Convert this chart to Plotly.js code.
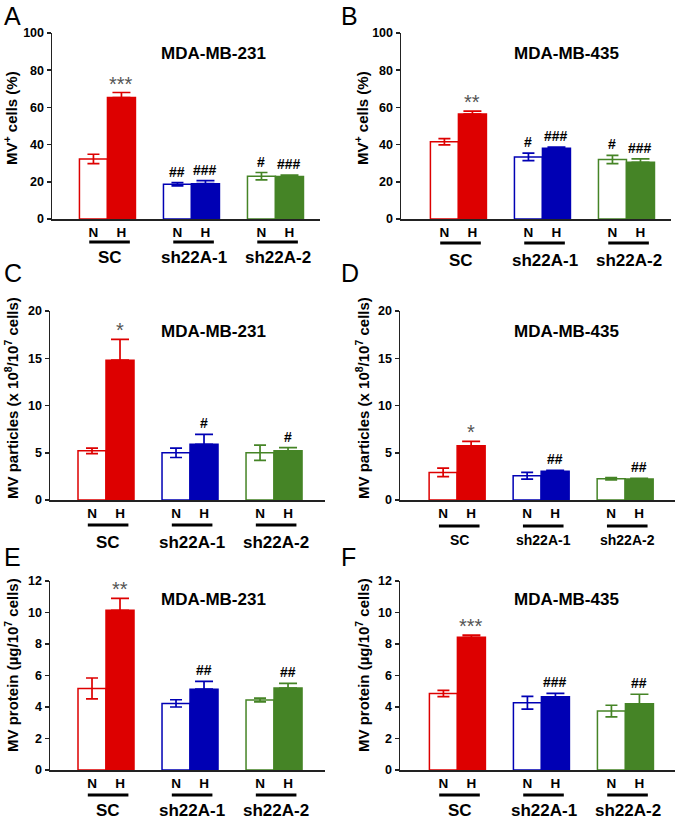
<!DOCTYPE html>
<html>
<head>
<meta charset="utf-8">
<script src="https://cdn.plot.ly/plotly-3.0.1.min.js"></script>
<style>html,body{margin:0;padding:0;background:#fff}#chart{width:678px;height:820px}</style>
</head>
<body>
<div id="chart"></div>
<script>
// ---- data ----
const groups = ['SC', 'sh22A-1', 'sh22A-2'];
const conds = ['N', 'H'];
const cellLines = ['MDA-MB-231', 'MDA-MB-435'];
const yTitles = ['MV<sup>+</sup> cells (%)', 'MV particles (x 10<sup>8</sup>/10<sup>7</sup> cells)', 'MV protein (µg/10<sup>7</sup> cells)'];
const panelLetters = ['A', 'B', 'C', 'D', 'E', 'F'];

// Panel A: MV+ cells, MDA-MB-231
const A_N = [32.3, 18.7, 23.0];
const A_N_err = [2.5, 0.9, 2.0];
const A_H = [65.3, 19.0, 22.8];
const A_H_err = [2.7, 1.6, 0.8];
const A_N_sig = ['', '##', '#'];
const A_H_sig = ['***', '###', '###'];
// Panel B: MV+ cells, MDA-MB-435
const B_N = [41.5, 33.4, 32.0];
const B_N_err = [1.7, 2.0, 2.2];
const B_H = [56.4, 38.1, 30.5];
const B_H_err = [1.6, 0.5, 1.8];
const B_N_sig = ['', '#', '#'];
const B_H_sig = ['**', '###', '###'];
// Panel C: MV particles, MDA-MB-231
const C_N = [5.2, 5.0, 5.0];
const C_N_err = [0.3, 0.5, 0.8];
const C_H = [14.8, 5.9, 5.2];
const C_H_err = [2.2, 1.05, 0.35];
const C_N_sig = ['', '', ''];
const C_H_sig = ['*', '#', '#'];
// Panel D: MV particles, MDA-MB-435
const D_N = [2.92, 2.57, 2.25];
const D_N_err = [0.45, 0.36, 0.13];
const D_H = [5.74, 3.03, 2.22];
const D_H_err = [0.46, 0.1, 0.07];
const D_N_sig = ['', '', ''];
const D_H_sig = ['*', '##', '##'];
// Panel E: MV protein, MDA-MB-231
const E_N = [5.18, 4.23, 4.44];
const E_N_err = [0.66, 0.23, 0.12];
const E_H = [10.14, 5.13, 5.2];
const E_H_err = [0.76, 0.5, 0.3];
const E_N_sig = ['', '', ''];
const E_H_sig = ['**', '##', '##'];
// Panel F: MV protein, MDA-MB-435
const F_N = [4.86, 4.27, 3.74];
const F_N_err = [0.2, 0.41, 0.37];
const F_H = [8.43, 4.65, 4.2];
const F_H_err = [0.13, 0.21, 0.61];
const F_N_sig = ['', '', ''];
const F_H_sig = ['***', '###', '##'];

// ---- styling / layout config ----
const groupColors = ['#dd0000', '#0000b4', '#458426'];
const W = 678, Hgt = 820;
const px = x => x / W;
const py = y => 1 - y / Hgt;
const FONT = 'Liberation Sans, Arial, Helvetica, sans-serif';

const panels = [
  {n: A_N, ne: A_N_err, h: A_H, he: A_H_err, ns: A_N_sig, hs: A_H_sig, line: 0, yt: 0,
   dom: [52, 320, 33, 219], xr: [-1.48, 8.09], yr: [0, 100], dt: 20,
   tpos: [213, 53], ytpos: [10, 118], lpos: [2, 15.5], lineY: 242, grpY: 257, grpSize: 17},
  {n: B_N, ne: B_N_err, h: B_H, he: B_H_err, ns: B_N_sig, hs: B_H_sig, line: 1, yt: 0,
   dom: [401, 671, 33, 219], xr: [-1.55, 8.09], yr: [0, 100], dt: 20,
   tpos: [566, 53], ytpos: [361, 118], lpos: [339, 15.5], lineY: 243, grpY: 260, grpSize: 17},
  {n: C_N, ne: C_N_err, h: C_H, he: C_H_err, ns: C_N_sig, hs: C_H_sig, line: 0, yt: 1,
   dom: [50, 325, 311, 500], xr: [-1.5, 8.32], yr: [0, 20], dt: 5,
   tpos: [213, 331], ytpos: [11, 398], lpos: [2, 273], lineY: 525, grpY: 542, grpSize: 17},
  {n: D_N, ne: D_N_err, h: D_H, he: D_H_err, ns: D_N_sig, hs: D_H_sig, line: 1, yt: 1,
   dom: [400, 675, 311, 500], xr: [-1.54, 8.28], yr: [0, 20], dt: 5,
   tpos: [566, 331], ytpos: [362, 398], lpos: [339, 273], lineY: 526, grpY: 540, grpSize: 14},
  {n: E_N, ne: E_N_err, h: E_H, he: E_H_err, ns: E_N_sig, hs: E_H_sig, line: 0, yt: 2,
   dom: [50, 325, 581, 770], xr: [-1.5, 8.32], yr: [0, 12], dt: 2,
   tpos: [213, 599], ytpos: [11, 665], lpos: [2, 557], lineY: 795, grpY: 810, grpSize: 17},
  {n: F_N, ne: F_N_err, h: F_H, he: F_H_err, ns: F_N_sig, hs: F_H_sig, line: 1, yt: 2,
   dom: [400, 675, 581, 770], xr: [-1.55, 8.27], yr: [0, 12], dt: 2,
   tpos: [566, 599], ytpos: [362, 665], lpos: [339, 557], lineY: 795, grpY: 810, grpSize: 17}
];

const traces = [];
const annotations = [];
const shapes = [];
const layout = {
  width: W, height: Hgt, margin: {l: 0, r: 0, t: 0, b: 0},
  paper_bgcolor: '#fff', plot_bgcolor: 'rgba(0,0,0,0)',
  showlegend: false, barmode: 'overlay',
  font: {family: FONT, color: '#000'}
};

panels.forEach((p, i) => {
  const k = i + 1;
  const xa = 'x' + (k === 1 ? '' : k), ya = 'y' + (k === 1 ? '' : k);
  const tickvals = [], ticktext = [];
  groups.forEach((g, gi) => {
    const base = gi * 3;
    const col = groupColors[gi];
    tickvals.push(base, base + 1);
    ticktext.push(conds[0], conds[1]);
    // N (open) bar
    traces.push({
      type: 'bar', x: [base], y: [p.n[gi]], width: [1], xaxis: xa, yaxis: ya,
      marker: {color: '#ffffff', line: {color: col, width: 1.5}},
      error_y: {type: 'data', array: [p.ne[gi]], visible: true, color: col, thickness: 1.7, width: 6},
      hoverinfo: 'skip'
    });
    // H (filled) bar
    traces.push({
      type: 'bar', x: [base + 1], y: [p.h[gi]], width: [1], xaxis: xa, yaxis: ya,
      marker: {color: col, line: {color: col, width: 1.5}},
      error_y: {type: 'data', symmetric: false, array: [p.he[gi]], arrayminus: [0], visible: true, color: col, thickness: 1.7, width: 9},
      hoverinfo: 'skip'
    });
    // significance marks
    [[p.ns[gi], base, p.n[gi] + p.ne[gi]], [p.hs[gi], base + 1, p.h[gi] + p.he[gi]]].forEach(([s, xx, yy]) => {
      if (!s) return;
      const star = s.indexOf('*') >= 0;
      annotations.push({
        xref: xa, yref: ya, x: xx, y: yy, text: s, showarrow: false,
        yanchor: 'bottom', yshift: star ? -4 : 1,
        font: star ? {family: FONT, size: 20, color: '#555'} : {family: FONT, size: 14, color: '#000', weight: 'bold'}
      });
    });
    // group underline + label
    shapes.push({type: 'line', xref: xa, yref: 'paper', x0: base - 0.15, x1: base + 1.3,
      y0: py(p.lineY), y1: py(p.lineY), line: {color: '#000', width: 3}});
    annotations.push({xref: xa, yref: 'paper', x: base + 0.58, y: py(p.grpY), text: g, showarrow: false,
      xanchor: 'center', yanchor: 'middle', font: {family: FONT, size: p.grpSize, weight: 'bold', color: '#000'}});
  });

  layout['xaxis' + (k === 1 ? '' : k)] = {
    domain: [px(p.dom[0]), px(p.dom[1])], anchor: ya, range: p.xr,
    showline: true, linecolor: '#222', linewidth: 1.5, showgrid: false, zeroline: false,
    ticks: '', tickmode: 'array', tickvals: tickvals, ticktext: ticktext,
    tickfont: {family: FONT, size: 13.5, weight: 'bold', color: '#000'}, fixedrange: true
  };
  layout['yaxis' + (k === 1 ? '' : k)] = {
    domain: [py(p.dom[3]), py(p.dom[2])], anchor: xa, range: p.yr,
    showline: true, linecolor: '#222', linewidth: 1.5, showgrid: false, zeroline: false,
    ticks: 'outside', ticklen: 4, tickwidth: 1.5, tickcolor: '#222', dtick: p.dt, tick0: 0,
    tickfont: {family: FONT, size: 12.5, weight: 'bold', color: '#000'}, fixedrange: true
  };
  // chart title (cell line)
  annotations.push({xref: 'paper', yref: 'paper', x: px(p.tpos[0]), y: py(p.tpos[1]), text: cellLines[p.line],
    showarrow: false, xanchor: 'center', yanchor: 'middle', font: {family: FONT, size: 17, weight: 'bold', color: '#000'}});
  // y-axis title
  annotations.push({xref: 'paper', yref: 'paper', x: px(p.ytpos[0]), y: py(p.ytpos[1]), text: yTitles[p.yt],
    showarrow: false, textangle: -90, xanchor: 'center', yanchor: 'middle', font: {family: FONT, size: 15, weight: 'bold', color: '#000'}});
  // panel letter
  annotations.push({xref: 'paper', yref: 'paper', x: px(p.lpos[0]), y: py(p.lpos[1]), text: panelLetters[i],
    showarrow: false, xanchor: 'left', yanchor: 'middle', font: {family: FONT, size: 25, color: '#000'}});
});

layout.annotations = annotations;
layout.shapes = shapes;
Plotly.newPlot('chart', traces, layout, {displayModeBar: false, staticPlot: true});
</script>
</body>
</html>
